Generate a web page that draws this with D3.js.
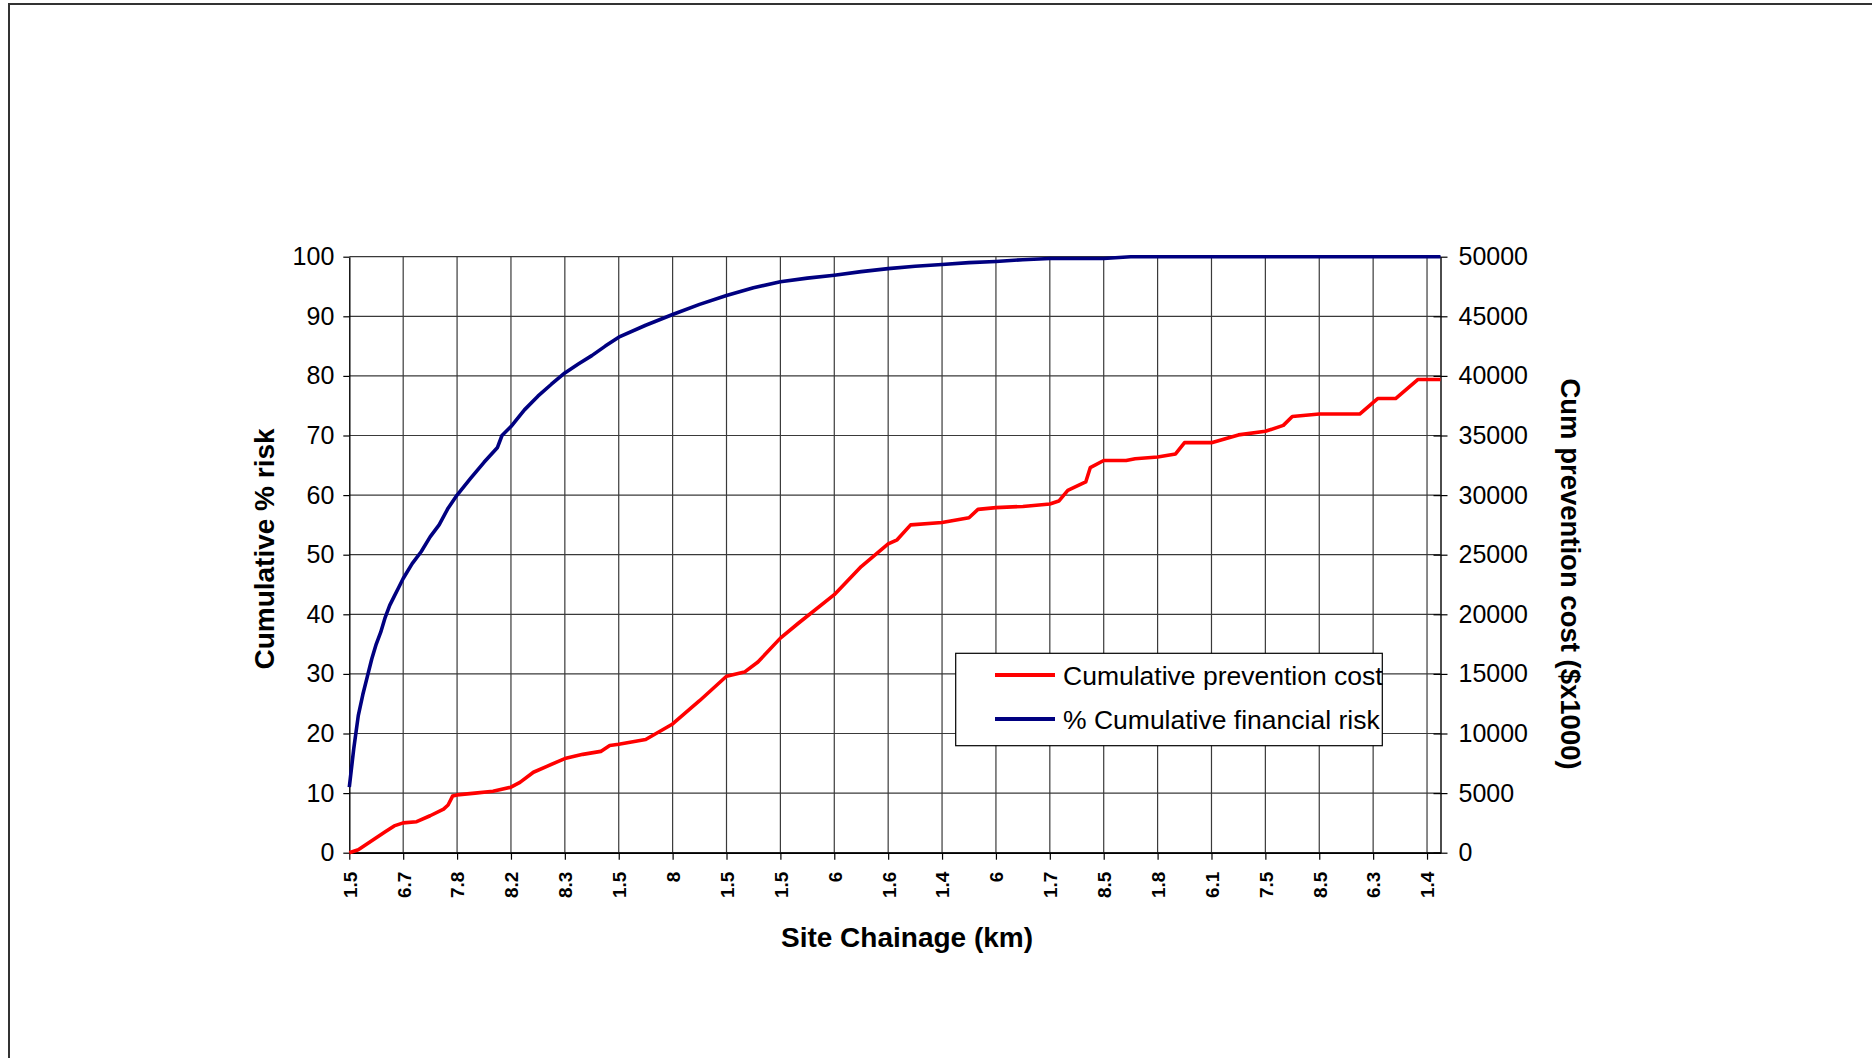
<!DOCTYPE html>
<html><head><meta charset="utf-8">
<script src="https://cdn.jsdelivr.net/npm/d3@7"></script>
<style>
html,body{margin:0;padding:0;background:#fff;overflow:hidden;}
svg{display:block;font-family:"Liberation Sans",Arial,Helvetica,sans-serif;}
</style></head><body>
<svg id="chart" width="1872" height="1058"></svg>
<script>
// ---------- data ----------
const pointCount = 244;          // number of chainage samples on the category axis
const tickEvery = 12;            // a tick label every 12 samples
const tickLabels = ["1.5","6.7","7.8","8.2","8.3","1.5","8","1.5","1.5","6","1.6",
                    "1.4","6","1.7","8.5","1.8","6.1","7.5","8.5","6.3","1.4"];
const leftTicks = [0,10,20,30,40,50,60,70,80,90,100];
const rightTicks = [0,5000,10000,15000,20000,25000,30000,35000,40000,45000,50000];

// % Cumulative financial risk (left axis)
const riskIndex = [0,1,2,3,4,5,6,7,8,9,10,11,12,14,16,18,20,22,24,27,30,33,34,36,39,42,45,48,
                   51,54,57,60,66,72,78,84,90,96,102,108,114,120,126,132,138,144,150,156,168,174,243];
const riskPercent = [11,17.5,23,26.5,29.5,32.5,35,37,39.5,41.5,43,44.5,46,48.5,50.5,53,55,57.8,60,
                     62.8,65.5,68,70,71.5,74.3,76.6,78.6,80.5,82,83.4,85,86.5,88.5,90.3,92,93.5,
                     94.8,95.8,96.4,96.9,97.5,98,98.4,98.7,99,99.2,99.5,99.7,99.7,100,100];

// Cumulative prevention cost ($x1000, right axis)
const costIndex = [0,2,4,6,8,10,12,15,18,21,22,23,24,28,32,36,38,41,44,48,52,56,58,60,66,72,78,84,
                   88,91,96,100,108,114,120,122,125,132,138,140,144,150,156,158,160,164,165,168,
                   173,175,180,184,186,192,198,204,208,210,216,225,229,233,238,243];
const costThousand = [0,250,750,1250,1750,2250,2500,2600,3100,3650,4000,4750,4850,5000,5150,5500,
                      5900,6750,7250,7900,8250,8500,9000,9100,9500,10800,12750,14800,15150,16000,
                      18000,19250,21650,24000,25900,26250,27500,27700,28100,28800,28950,29050,
                      29250,29500,30400,31100,32300,32900,32900,33050,33200,33450,34400,34400,
                      35050,35350,35850,36600,36800,36800,38100,38100,39700,39700];

const seriesNames = ["Cumulative prevention cost","% Cumulative financial risk"];
const seriesColors = ["#ff0000","#000080"];

// ---------- layout ----------
const svg = d3.select("#chart");
const L = 349.3, R = 1440.5, T = 256.7, B = 852.7;

const x = d3.scaleLinear().domain([0, pointCount - 1]).range([L, R]);
const yL = d3.scaleLinear().domain([0, 100]).range([B, T]);
const yR = d3.scaleLinear().domain([0, 50000]).range([B, T]);
const xTickValues = tickLabels.map((d, i) => i * tickEvery);

// outer frame (top + left only, as in reference)
svg.append("path").attr("d", "M9,1060 L9,4 L1874,4")
   .attr("fill", "none").attr("stroke", "#333").attr("stroke-width", 2);

// gridlines
const grid = svg.append("g").attr("stroke", "#3a3a3a").attr("stroke-width", 1.2);
grid.selectAll("line.h").data(leftTicks).join("line")
  .attr("x1", L).attr("x2", R).attr("y1", d => yL(d)).attr("y2", d => yL(d));
grid.selectAll("line.v").data(xTickValues.slice(1)).join("line")
  .attr("x1", d => x(d)).attr("x2", d => x(d)).attr("y1", T).attr("y2", B);

// axes
const axisLeft = svg.append("g").attr("transform", `translate(${L},0)`)
  .call(d3.axisLeft(yL).tickValues(leftTicks).tickSize(6).tickSizeOuter(0).tickPadding(9));
const axisRight = svg.append("g").attr("transform", `translate(${R},0)`)
  .call(d3.axisRight(yR).tickValues(rightTicks).tickFormat(d3.format("d"))
        .tickSize(7).tickSizeOuter(0).tickPadding(11));
axisRight.selectAll(".tick").append("line").attr("x1", -7).attr("x2", 0).attr("stroke", "#000");
const axisBottom = svg.append("g").attr("transform", `translate(0,${B})`)
  .call(d3.axisBottom(x).tickValues(xTickValues).tickFormat((d, i) => tickLabels[i])
        .tickSize(7).tickSizeOuter(0));

[axisLeft, axisRight, axisBottom].forEach(g => {
  g.select(".domain").attr("stroke", "#000").attr("stroke-width", 1.4);
  g.selectAll(".tick line").attr("stroke", "#000").attr("stroke-width", 1.2);
  g.selectAll("text").attr("fill", "#000").attr("font-family", '"Liberation Sans",Arial,sans-serif');
});
axisLeft.selectAll("text").attr("font-size", 25);
axisRight.selectAll("text").attr("font-size", 25);
axisBottom.selectAll("text")
  .attr("font-size", 19).attr("font-weight", "900")
  .attr("text-anchor", "end").attr("x", 0).attr("y", 0).attr("dy", "0.36em")
  .attr("transform", "translate(0,19) rotate(-90)");

// series lines
const line = d3.line();
const costPts = costIndex.map((d, i) => [x(d), yR(costThousand[i])]);
const riskPts = riskIndex.map((d, i) => [x(d), yL(riskPercent[i])]);
svg.append("path").attr("d", line(costPts)).attr("fill", "none")
  .attr("stroke", seriesColors[0]).attr("stroke-width", 3.6).attr("stroke-linejoin", "round");
svg.append("path").attr("d", line(riskPts)).attr("fill", "none")
  .attr("stroke", seriesColors[1]).attr("stroke-width", 3.6).attr("stroke-linejoin", "round");

// axis titles
svg.append("text").attr("transform", "translate(274,549) rotate(-90)")
  .attr("text-anchor", "middle").attr("font-size", 28).attr("font-weight", "bold")
  .text("Cumulative % risk");
svg.append("text").attr("transform", "translate(1561,574) rotate(90)")
  .attr("text-anchor", "middle").attr("font-size", 27.5).attr("font-weight", "bold")
  .text("Cum prevention cost ($x1000)");
svg.append("text").attr("x", 907).attr("y", 947)
  .attr("text-anchor", "middle").attr("font-size", 28).attr("font-weight", "bold")
  .text("Site Chainage (km)");

// legend
const lg = svg.append("g");
lg.append("rect").attr("x", 955.7).attr("y", 653.3).attr("width", 426.6).attr("height", 92.4)
  .attr("fill", "#fff").attr("stroke", "#000").attr("stroke-width", 1.2);
const legendY = [675, 719];
seriesNames.forEach((name, i) => {
  lg.append("line").attr("x1", 995).attr("x2", 1055).attr("y1", legendY[i]).attr("y2", legendY[i])
    .attr("stroke", seriesColors[i]).attr("stroke-width", 4);
  lg.append("text").attr("x", 1063).attr("y", legendY[i]).attr("dy", "0.36em")
    .attr("font-size", 26.5).attr("fill", "#000").text(name);
});
</script>
</body></html>
